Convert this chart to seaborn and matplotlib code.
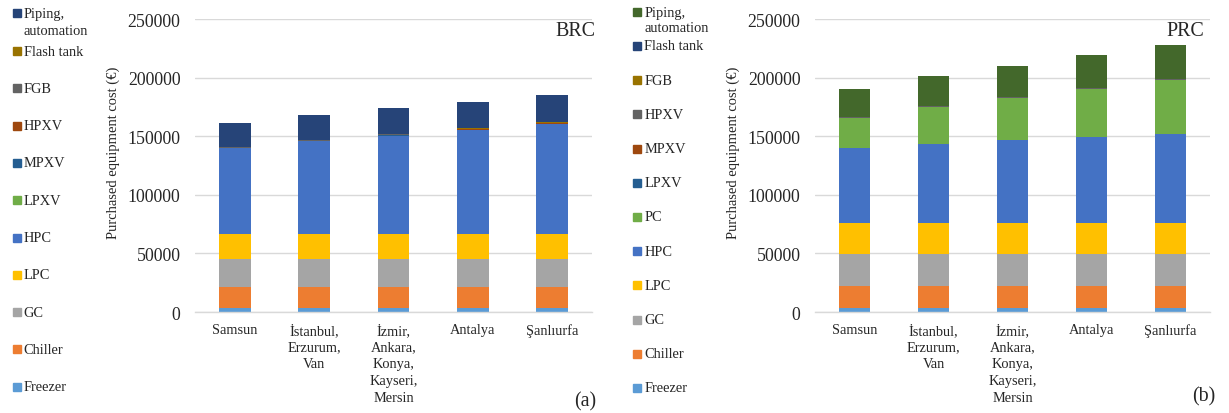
import matplotlib
matplotlib.use("Agg")
import numpy as np
import matplotlib.pyplot as plt
from matplotlib.patches import Rectangle
import seaborn as sns

# ---------------------------------------------------------------- data
cities = ["Samsun", "İstanbul,\nErzurum,\nVan",
          "İzmir,\nAnkara,\nKonya,\nKayseri,\nMersin", "Antalya", "Şanlıurfa"]

# BRC purchased equipment cost (€), stacked bottom to top
brc_freezer = [3000, 3000, 3000, 3000, 3000]
brc_chiller = [18700, 18700, 18700, 18700, 18700]
brc_gc = [23500, 23500, 23500, 23500, 23500]
brc_lpc = [21300, 21300, 21300, 21300, 21300]
brc_hpc = [73100, 79100, 83900, 88800, 93900]
brc_lpxv = [150, 150, 150, 150, 150]
brc_mpxv = [150, 150, 150, 150, 150]
brc_hpxv = [150, 150, 150, 150, 150]
brc_fgb = [700, 700, 700, 700, 700]
brc_flash = [150, 150, 150, 150, 150]
brc_piping = [20100, 20900, 22000, 22800, 23700]

# PRC purchased equipment cost (€), stacked bottom to top
prc_freezer = [3000, 3000, 3000, 3000, 3000]
prc_chiller = [19200, 19200, 19200, 19200, 19200]
prc_gc = [27500, 27500, 27500, 27500, 27500]
prc_lpc = [26200, 26200, 26200, 26200, 26200]
prc_hpc = [64000, 67400, 70500, 73100, 75600]
prc_pc = [25300, 31300, 36200, 41200, 46100]
prc_lpxv = [150, 150, 150, 150, 150]
prc_mpxv = [150, 150, 150, 150, 150]
prc_hpxv = [600, 600, 600, 600, 600]
prc_fgb = [150, 150, 150, 150, 150]
prc_flash = [150, 150, 150, 150, 150]
prc_piping = [24000, 25200, 26300, 27500, 29200]

brc_labels = ["Freezer", "Chiller", "GC", "LPC", "HPC", "LPXV", "MPXV",
              "HPXV", "FGB", "Flash tank", "Piping,\nautomation"]
brc_values = [brc_freezer, brc_chiller, brc_gc, brc_lpc, brc_hpc, brc_lpxv,
              brc_mpxv, brc_hpxv, brc_fgb, brc_flash, brc_piping]
brc_colors = ["#5B9BD5", "#ED7D31", "#A5A5A5", "#FFC000", "#4472C4",
              "#70AD47", "#255E91", "#9E480E", "#636363", "#997300", "#264478"]

prc_labels = ["Freezer", "Chiller", "GC", "LPC", "HPC", "PC", "LPXV", "MPXV",
              "HPXV", "FGB", "Flash tank", "Piping,\nautomation"]
prc_values = [prc_freezer, prc_chiller, prc_gc, prc_lpc, prc_hpc, prc_pc,
              prc_lpxv, prc_mpxv, prc_hpxv, prc_fgb, prc_flash, prc_piping]
prc_colors = ["#5B9BD5", "#ED7D31", "#A5A5A5", "#FFC000", "#4472C4",
              "#70AD47", "#255E91", "#9E480E", "#636363", "#997300",
              "#264478", "#43682B"]

yticks = [0, 50000, 100000, 150000, 200000, 250000]

# ---------------------------------------------------------------- style
sns.set_style("white")
plt.rcParams["font.family"] = ["Liberation Serif", "DejaVu Serif"]
plt.rcParams["text.color"] = "#262626"

W, H = 1229, 414
fig = plt.figure(figsize=(W / 100, H / 100), dpi=100)


def px_box(x0, y0, x1, y1):
    return [x0 / W, 1 - y1 / H, (x1 - x0) / W, (y1 - y0) / H]


def draw_stack(ax, values, colors):
    cum = np.cumsum(np.array(values, dtype=float), axis=0)
    # draw from the tallest cumulative total downwards so each layer shows
    for level in range(len(values) - 1, -1, -1):
        sns.barplot(x=cities, y=list(cum[level]), color=colors[level],
                    width=0.4, saturation=1, ax=ax, order=cities,
                    linewidth=0, edgecolor="none")
    ax.set_ylim(0, 250000)
    ax.set_xlim(-0.5, 4.5)
    ax.set_yticks(yticks)
    ax.set_yticklabels([str(v) for v in yticks], fontsize=12.8)
    ax.set_xticks(range(len(cities)))
    ax.set_xticklabels(cities, fontsize=10.4, linespacing=1.37, va="top")
    ax.tick_params(axis="y", length=0, pad=10.5)
    ax.tick_params(axis="x", length=0, pad=8)
    ax.yaxis.grid(True, color="#D9D9D9", linewidth=1)
    ax.set_axisbelow(True)
    for s in ["top", "right", "left"]:
        ax.spines[s].set_visible(False)
    ax.spines["bottom"].set_color("#D9D9D9")
    ax.spines["bottom"].set_linewidth(1)
    ax.set_xlabel("")
    ax.set_ylabel("")


def px(x, y):
    return x / W, 1 - y / H


def draw_key(labels, colors, sq_x, txt_x, first_y, y0, pitch, two_line_sp):
    # labels listed top to bottom; the two-line entry sits at first_y
    order = list(range(len(labels) - 1, -1, -1))
    for i, idx in enumerate(order):
        if i == 0:
            yc = first_y
        else:
            yc = y0 + (i - 1) * pitch
        fx, fy = px(sq_x, yc + 4)
        fig.add_artist(Rectangle((fx, fy), 8 / W, 8 / H, color=colors[idx],
                                 transform=fig.transFigure))
        if "\n" in labels[idx]:
            tx, ty = px(txt_x, yc - 6)
            fig.text(tx, ty, labels[idx], fontsize=10.4, va="top",
                     ha="left", linespacing=two_line_sp)
        else:
            tx, ty = px(txt_x, yc)
            fig.text(tx, ty, labels[idx], fontsize=10.4, va="center",
                     ha="left")


ax1 = fig.add_axes(px_box(195, 20, 592, 313))
draw_stack(ax1, brc_values, brc_colors)
ax2 = fig.add_axes(px_box(815, 20, 1210, 313))
draw_stack(ax2, prc_values, prc_colors)

draw_key(brc_labels, brc_colors, 13, 23.5, 14, 52, 37.3, 1.37)
draw_key(prc_labels, prc_colors, 633, 644.5, 13, 47, 34.2, 1.2)

for xl in (113, 733):
    tx, ty = px(xl, 153)
    fig.text(tx, ty, "Purchased equipment cost (€)", rotation=90,
             fontsize=10.5, ha="center", va="center")

tx, ty = px(595, 32)
fig.text(tx, ty, "BRC", fontsize=14.4, ha="right", va="center")
tx, ty = px(1204, 31)
fig.text(tx, ty, "PRC", fontsize=14.4, ha="right", va="center")
tx, ty = px(596, 402)
fig.text(tx, ty, "(a)", fontsize=14.4, ha="right", va="center")
tx, ty = px(1215, 397)
fig.text(tx, ty, "(b)", fontsize=14.4, ha="right", va="center")

fig.savefig("out.png", dpi=100)
